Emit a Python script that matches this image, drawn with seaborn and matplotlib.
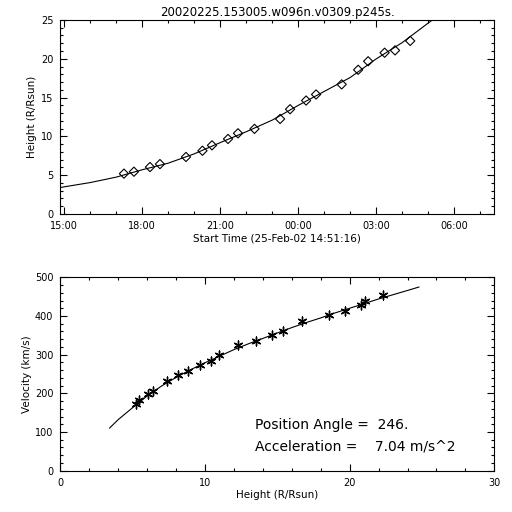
import matplotlib
matplotlib.use("Agg")
import matplotlib.pyplot as plt
import matplotlib.dates as mdates
from matplotlib.ticker import MultipleLocator
import seaborn as sns
import pandas as pd

# measured points (LASCO height-time)
obs_times = ["2002-02-25 17:18", "2002-02-25 17:41", "2002-02-25 18:18", "2002-02-25 18:41",
             "2002-02-25 19:41", "2002-02-25 20:19", "2002-02-25 20:41", "2002-02-25 21:18",
             "2002-02-25 21:41", "2002-02-25 22:19", "2002-02-25 23:18", "2002-02-25 23:41",
             "2002-02-26 00:18", "2002-02-26 00:41", "2002-02-26 01:40", "2002-02-26 02:18",
             "2002-02-26 02:41", "2002-02-26 03:19", "2002-02-26 03:43", "2002-02-26 04:18"]
obs_height = [5.2, 5.45, 6.05, 6.43, 7.35, 8.15, 8.85, 9.67, 10.4, 10.97,
              12.25, 13.5, 14.62, 15.4, 16.7, 18.58, 19.68, 20.78, 21.08, 22.3]
obs_velocity = [172, 183, 198, 205, 231, 247, 258, 272, 284, 299,
                324, 336, 350, 360, 386, 403, 414, 428, 439, 454]

# fitted height-time curve
fit_times = ["2002-02-25 14:51", "2002-02-25 15:00", "2002-02-25 16:00", "2002-02-25 17:00",
             "2002-02-25 18:00", "2002-02-25 19:00", "2002-02-25 20:00", "2002-02-25 21:00",
             "2002-02-25 22:00", "2002-02-25 23:00", "2002-02-26 00:00", "2002-02-26 01:00",
             "2002-02-26 02:00", "2002-02-26 03:00", "2002-02-26 04:00", "2002-02-26 05:09"]
fit_height = [3.4, 3.5, 4.05, 4.75, 5.7, 6.55, 7.75, 9.2, 10.6, 12.1, 14.0, 15.8,
              17.6, 20.0, 22.1, 25.0]

# fitted velocity-height curve
vfit_height = [3.4, 4, 5, 6, 7, 8, 9, 10, 11, 12, 13, 14, 15, 16, 17, 18, 19, 20,
               21, 22, 23, 24, 24.8]
vfit_velocity = [110, 132, 163, 193, 219, 241, 261, 279, 296, 313, 328, 342, 356, 370,
                 383, 395, 408, 420, 432, 444, 455, 466, 475]

title = "20020225.153005.w096n.v0309.p245s."
start_label = "Start Time (25-Feb-02 14:51:16)"
pa_text = "Position Angle =  246."
acc_text = "Acceleration =    7.04 m/s^2"

sns.set_theme(style="ticks")
plt.rcParams['font.family'] = ['DejaVu Sans']
plt.rcParams['axes.edgecolor'] = 'black'
plt.rcParams['axes.linewidth'] = 0.8
plt.rcParams['text.color'] = 'black'
plt.rcParams['axes.labelcolor'] = 'black'
plt.rcParams['xtick.color'] = 'black'
plt.rcParams['ytick.color'] = 'black'

fig = plt.figure(figsize=(5.12, 5.12), dpi=100)
ax1 = fig.add_axes([0.1178, 0.582, 0.8477, 0.379])
ax2 = fig.add_axes([0.1178, 0.0807, 0.8477, 0.3777])

obs_t = pd.to_datetime(obs_times)
fit_t = pd.to_datetime(fit_times)

# top panel: height vs time
sns.lineplot(x=fit_t, y=fit_height, ax=ax1, color='black', linewidth=0.8, sort=False)
sns.scatterplot(x=obs_t, y=obs_height, ax=ax1, marker='D', s=22,
                facecolor='none', edgecolor='black', linewidth=0.8)
ax1.set_xlim(pd.Timestamp("2002-02-25 14:51:16"), pd.Timestamp("2002-02-26 07:32"))
ax1.set_ylim(0, 25)
ax1.xaxis.set_major_locator(mdates.HourLocator(byhour=[0, 3, 6, 9, 12, 15, 18, 21]))
ax1.xaxis.set_minor_locator(mdates.HourLocator())
ax1.xaxis.set_major_formatter(mdates.DateFormatter('%H:%M'))
ax1.yaxis.set_major_locator(MultipleLocator(5))
ax1.yaxis.set_minor_locator(MultipleLocator(1))
ax1.set_xlabel(start_label, fontsize=7.5, labelpad=2)
ax1.set_ylabel("Height (R/Rsun)", fontsize=7.5, labelpad=3)
ax1.set_title(title, fontsize=8.5, pad=3)

# bottom panel: velocity vs height
sns.lineplot(x=vfit_height, y=vfit_velocity, ax=ax2, color='black', linewidth=0.8, sort=False)
sns.scatterplot(x=obs_height, y=obs_velocity, ax=ax2, marker=(6, 2, 0), s=40,
                color='black', linewidth=1.0)
ax2.set_xlim(0, 30)
ax2.set_ylim(0, 500)
ax2.xaxis.set_major_locator(MultipleLocator(10))
ax2.xaxis.set_minor_locator(MultipleLocator(2))
ax2.yaxis.set_major_locator(MultipleLocator(100))
ax2.yaxis.set_minor_locator(MultipleLocator(20))
ax2.set_xlabel("Height (R/Rsun)", fontsize=7.5, labelpad=2)
ax2.set_ylabel("Velocity (km/s)", fontsize=7.5, labelpad=2)
ax2.text(13.46, 118, pa_text, fontsize=10, va='center', ha='left')
ax2.text(13.46, 62, acc_text, fontsize=10, va='center', ha='left')

for ax in (ax1, ax2):
    ax.tick_params(which='both', direction='in', top=True, right=True,
                   labelsize=7, width=0.8, pad=5)
    ax.tick_params(which='major', length=5)
    ax.tick_params(which='minor', length=2.5)
    for s in ax.spines.values():
        s.set_visible(True)

fig.savefig("out.png", dpi=100, facecolor='white')
